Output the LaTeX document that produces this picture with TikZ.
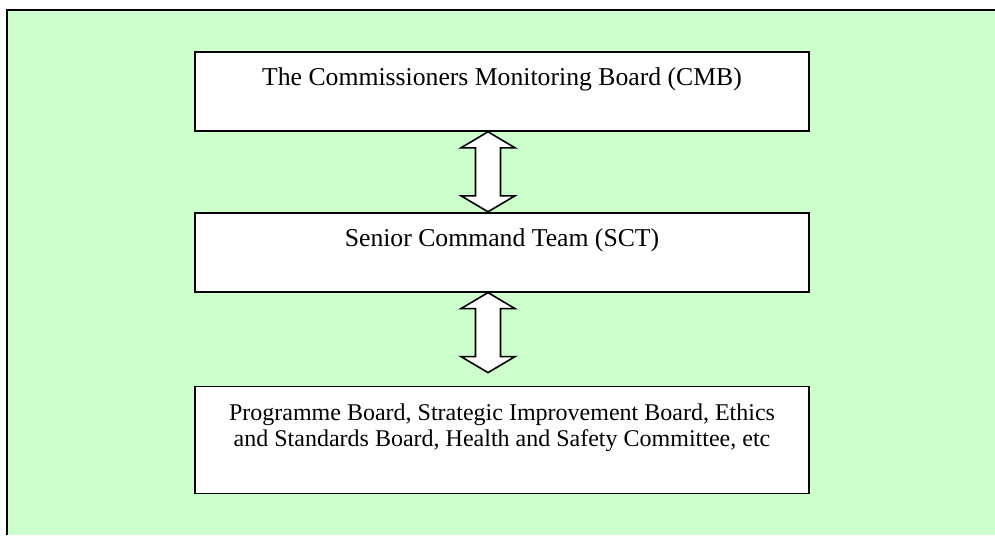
\documentclass[tikz,border=0pt]{standalone}
\usepackage{fontspec}
\setmainfont{Liberation Serif}
\usetikzlibrary{positioning,calc}

\definecolor{bggreen}{HTML}{CCFFCC}

\tikzset{
  board/.style = {draw, fill=white, line width=1.8pt, minimum width=614pt,
    inner sep=0pt, text height=34pt, text depth=45pt,
    font=\fontsize{25.7}{30}\selectfont},
  blockarrow/.style = {draw, fill=white, line width=1.6pt, line join=miter}
}

% double block arrow between two tips
\newcommand{\dblarrow}[2]{%
  \draw[blockarrow] (#1) -- ++(27,16) -- ++(-14.5,0)
    -- ($(#2)+(12.5,-16)$) -- ++(14.5,0) -- (#2) -- ++(-27,-16)
    -- ++(14.5,0) -- ($(#1)+(-12.5,16)$) -- ++(-14.5,0) -- cycle;}

\begin{document}
\begin{tikzpicture}[x=1pt, y=-1pt]
	\useasboundingbox (0,0) rectangle (995,535);
	% background panel
	\fill[bggreen] (7,10) rectangle (995,535);
	\draw[line width=2pt] (7,535) -- (7,10) -- (995,10);

	\node[board, anchor=north] (cmb) at (502,51) {The Commissioners Monitoring Board (CMB)\hspace{10pt}};
	\node[board, below=80pt of cmb] (sct) {Senior Command Team (SCT)\hspace{10pt}};
	\node[board, below=93pt of sct, align=center, text height=60pt, text depth=47pt,
	  font=\fontsize{24}{26.5}\selectfont] (boards)
	  {Programme Board, Strategic Improvement Board, Ethics\\
	   and Standards Board, Health and Safety Committee, etc};

	\coordinate (a1top) at ($(cmb.south)+(-14,0)$);
	\coordinate (a1bot) at ($(sct.north)+(-14,0)$);
	\coordinate (a2top) at ($(sct.south)+(-14,0)$);
	\coordinate (a2bot) at ($(boards.north)+(-14,-13)$);
	\dblarrow{a1top}{a1bot}
	\dblarrow{a2top}{a2bot}
\end{tikzpicture}
\end{document}
